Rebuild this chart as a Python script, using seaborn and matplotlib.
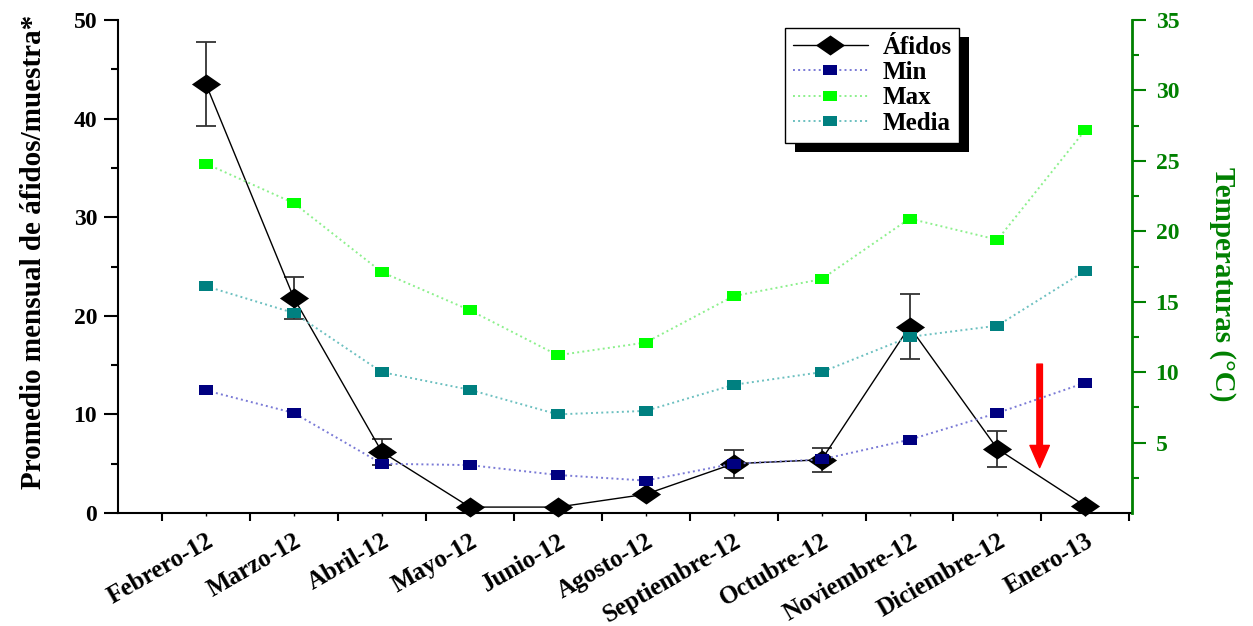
import numpy as np
import pandas as pd
import matplotlib
matplotlib.use("Agg")
import matplotlib.pyplot as plt
import seaborn as sns
from matplotlib.lines import Line2D
from matplotlib.patches import Rectangle
from matplotlib.ticker import FixedLocator, MultipleLocator

# --- data ---
meses = ["Febrero-12", "Marzo-12", "Abril-12", "Mayo-12", "Junio-12", "Agosto-12",
         "Septiembre-12", "Octubre-12", "Noviembre-12", "Diciembre-12", "Enero-13"]
afidos = [43.5, 21.8, 6.2, 0.6, 0.6, 1.9, 5.0, 5.4, 18.9, 6.5, 0.7]
afidos_err = [4.3, 2.1, 1.3, 0.0, 0.0, 0.0, 1.4, 1.2, 3.3, 1.85, 0.0]
t_min = [8.7, 7.1, 3.5, 3.4, 2.7, 2.3, 3.5, 3.8, 5.2, 7.1, 9.25]
t_max = [24.8, 22.0, 17.1, 14.4, 11.2, 12.1, 15.4, 16.6, 20.9, 19.4, 27.2]
t_media = [16.1, 14.2, 10.0, 8.75, 7.0, 7.25, 9.1, 10.0, 12.5, 13.3, 17.2]

df = pd.DataFrame({"mes": meses, "afidos": afidos, "err": afidos_err,
                   "min": t_min, "max": t_max, "media": t_media})
df["pos"] = np.arange(len(df))

sns.set_style("ticks")
plt.rcParams["font.family"] = ["Liberation Serif", "DejaVu Serif"]
plt.rcParams["font.weight"] = "bold"
for k in ["text.color", "axes.labelcolor", "xtick.color", "ytick.color", "axes.edgecolor"]:
    plt.rcParams[k] = "black"

VERDE = "#008000"
diamante = [(-1.45, 0), (0, 1), (1.45, 0), (0, -1), (-1.45, 0)]
rect = [(-1.4, -1), (1.4, -1), (1.4, 1), (-1.4, 1), (-1.4, -1)]

fig = plt.figure(figsize=(12.53, 6.26), dpi=100)
ax = fig.add_axes([118 / 1253, 1 - 513 / 626, (1132 - 118) / 1253, (513 - 20) / 626])
ax2 = ax.twinx()

# afidos with error bars
ax.errorbar(df["pos"], df["afidos"], yerr=df["err"], fmt="none", ecolor="#333333",
            elinewidth=1.3, capsize=7, capthick=1.3, zorder=2)
sns.lineplot(data=df, x="pos", y="afidos", ax=ax, color="black", linewidth=1,
             marker=diamante, markersize=21, markeredgewidth=0, clip_on=False,
             sort=False, zorder=3)

# temperatures on the right axis
series = [("min", "#000080", "#7a7ad6"), ("max", "#00ff00", "#8cf08c"),
          ("media", "#008080", "#6cc0c0")]
for col, c_mark, c_line in series:
    sns.lineplot(data=df, x="pos", y=col, ax=ax2, color=c_line, linestyle=":",
                 linewidth=1.4, marker=rect, markersize=10, markerfacecolor=c_mark,
                 markeredgewidth=0, sort=False)

# red arrow between Diciembre and Enero
ax.annotate("", xy=(9.48, 4.6), xytext=(9.48, 15.1),
            arrowprops=dict(facecolor="red", edgecolor="red", width=4,
                            headwidth=14, headlength=16, shrink=0))

# x axis
ax.set_xlim(-1, 10.53)
ax.set_xticks(df["pos"])
ax.set_xticklabels(meses, rotation=30, ha="right", va="top", rotation_mode="anchor",
                   fontsize=18, fontweight="bold")
ax.xaxis.set_minor_locator(FixedLocator(np.arange(-0.5, 10.6, 1)))
ax.tick_params(axis="x", which="major", length=2, width=1, pad=10)
ax.tick_params(axis="x", which="minor", length=6, width=1.5, direction="out")
ax.set_xlabel("")

# left axis
ax.set_ylim(0, 50)
ax.yaxis.set_major_locator(MultipleLocator(10))
ax.yaxis.set_minor_locator(MultipleLocator(5))
ax.tick_params(axis="y", which="major", length=10, width=1.5, labelsize=17, pad=5)
ax.tick_params(axis="y", which="minor", length=5, width=1.5)
for lab in ax.get_yticklabels():
    lab.set_fontweight("bold")
ax.set_ylabel("Promedio mensual de áfidos/muestra*", fontsize=21, fontweight="bold")
ax.yaxis.set_label_coords(-0.070, 0.53)

# right axis
ax2.set_ylim(0, 35)
ax2.yaxis.set_major_locator(FixedLocator([5, 10, 15, 20, 25, 30, 35]))
ax2.yaxis.set_minor_locator(FixedLocator(np.arange(2.5, 35, 5)))
ax2.tick_params(axis="y", which="major", length=10, width=1.5, colors=VERDE,
                labelsize=17, pad=7)
ax2.tick_params(axis="y", which="minor", length=5, width=1.5, colors=VERDE)
for lab in ax2.get_yticklabels():
    lab.set_fontweight("bold")
ax2.set_ylabel("Temperaturas (°C)", rotation=270, color=VERDE, fontsize=21,
               fontweight="bold", va="center")
ax2.yaxis.set_label_coords(1.089, 0.465)

for s in ["top", "right"]:
    ax.spines[s].set_visible(False)
for s in ["top", "left", "bottom"]:
    ax2.spines[s].set_visible(False)
ax.spines["left"].set_linewidth(1.5)
ax.spines["bottom"].set_linewidth(1.5)
ax2.spines["right"].set_linewidth(2)
ax2.spines["right"].set_color(VERDE)

# legend with a solid black shadow
handles = [
    Line2D([], [], color="black", lw=1, marker=diamante, markersize=21, markeredgewidth=0),
    Line2D([], [], color="#7a7ad6", lw=1.4, ls=":", marker=rect, markersize=10,
           markerfacecolor="#000080", markeredgewidth=0),
    Line2D([], [], color="#8cf08c", lw=1.4, ls=":", marker=rect, markersize=10,
           markerfacecolor="#00ff00", markeredgewidth=0),
    Line2D([], [], color="#6cc0c0", lw=1.4, ls=":", marker=rect, markersize=10,
           markerfacecolor="#008080", markeredgewidth=0),
]
leg = fig.legend(handles, ["Áfidos", "Min", "Max", "Media"], loc="upper left",
                 bbox_to_anchor=(785 / 1253, 1 - 28 / 626), frameon=True, fancybox=False,
                 edgecolor="black", framealpha=1, borderaxespad=0, handlelength=3,
                 labelspacing=0.1, borderpad=0.3, handletextpad=0.6,
                 prop=dict(family="Liberation Serif", weight="bold", size=18))
leg.get_frame().set_linewidth(1)
leg.set_zorder(5)

fig.canvas.draw()
bb = leg.get_window_extent().transformed(fig.transFigure.inverted())
sombra = Rectangle((bb.x0 + 10 / 1253, bb.y0 - 9 / 626), bb.width, bb.height,
                   transform=fig.transFigure, facecolor="black", edgecolor="none", zorder=4)
fig.add_artist(sombra)

fig.savefig("out.png", dpi=100)
